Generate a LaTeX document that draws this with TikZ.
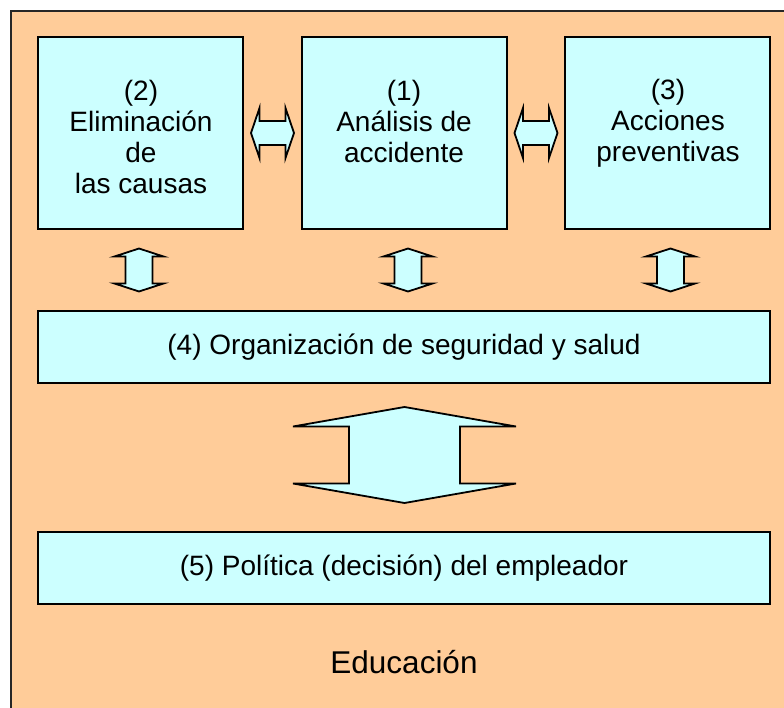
\documentclass[tikz,border=0pt]{standalone}
\usepackage{fontspec}
\setmainfont{Liberation Sans}
\usetikzlibrary{calc}
\definecolor{bgorange}{HTML}{FFCC99}
\definecolor{boxfill}{HTML}{CCFFFF}
\begin{document}
\begin{tikzpicture}[x=1pt,y=-1pt,
  box/.style={draw=black, line width=2pt, fill=boxfill, inner sep=0pt},
  blockarrow/.style={draw=black, line width=1.8pt, fill=boxfill, line join=miter},
  lbl/.style={font=\fontsize{28}{31}\selectfont, align=center, inner sep=0pt},
  hdarrow/.pic={\path[blockarrow] (-21.5,0) -- (-13,-25) -- (-13,-12) -- (13,-12) -- (13,-25) -- (21.5,0) -- (13,25) -- (13,12) -- (-13,12) -- (-13,25) -- cycle;},
  vdarrow/.pic={\path[blockarrow] (0,-21.5) -- (24.5,-13.5) -- (13.5,-13.5) -- (13.5,13.5) -- (24.5,13.5) -- (0,21.5) -- (-24.5,13.5) -- (-13.5,13.5) -- (-13.5,-13.5) -- (-24.5,-13.5) -- cycle;},
  bigarrow/.pic={\path[blockarrow] (0,-48) -- (111.5,-28.5) -- (55.5,-28.5) -- (55.5,28.5) -- (111.5,28.5) -- (0,48) -- (-111.5,28.5) -- (-55.5,28.5) -- (-55.5,-28.5) -- (-111.5,-28.5) -- cycle;}
]
\useasboundingbox (0,0) rectangle (784,708);
\clip (0,0) rectangle (784,708);
\fill[white] (0,0) rectangle (784,708);
\draw[fill=bgorange, draw=black!85, line width=2pt] (11,11) rectangle (800,730);

% boxes
\node[box, minimum width=205pt, minimum height=192pt] (b2) at (140.5,133) {};
\node[box, minimum width=205pt, minimum height=192pt] (b1) at (404.5,133) {};
\node[box, minimum width=205pt, minimum height=192pt] (b3) at (667.5,133) {};
\node[box, minimum width=732pt, minimum height=72pt] (b4) at (404,347) {};
\node[box, minimum width=732pt, minimum height=72pt] (b5) at (404,568) {};

% texts
\node[lbl] (t2) at (141,137) {(2)\\Eliminación\\de\\las causas};
\node[lbl] (t1) at (404,121.5) {(1)\\Análisis de\\accidente};
\node[lbl] (t3) at (668,123.5) {(3)\\Acciones\\preventivas};
\node[lbl] (t4) at (404,347) {(4) Organización de seguridad y salud};
\node[lbl] (t5) at (404,568) {(5) Política (decisión) del empleador};
\node[lbl, font=\fontsize{31.5}{35}\selectfont] (edu) at (404,662) {Educación};

% block arrows
\coordinate (h1) at ($(b2.east)!0.5!(b1.west)$);
\coordinate (h2) at ($(b1.east)!0.5!(b3.west)$);
\pic at (h1) {hdarrow};
\pic at (h2) {hdarrow};
\pic at (139,270) {vdarrow};
\pic at (408,270) {vdarrow};
\pic at (670.5,270) {vdarrow};
\pic at (404.5,455) {bigarrow};
\end{tikzpicture}
\end{document}
